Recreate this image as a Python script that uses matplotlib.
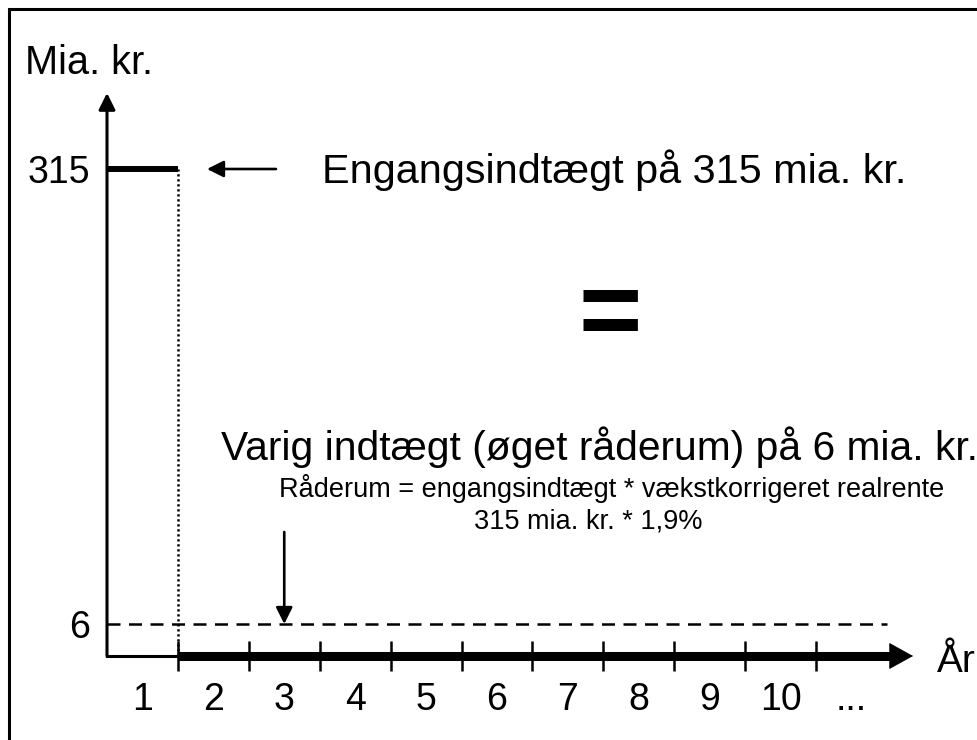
import matplotlib
matplotlib.use("Agg")
import matplotlib.pyplot as plt
import numpy as np
from matplotlib.patches import Rectangle
from matplotlib.ticker import FixedLocator, NullFormatter, FixedFormatter

# ---------------- data ----------------
years = [1, 2, 3, 4, 5, 6, 7, 8, 9, 10]
year_labels = ["1", "2", "3", "4", "5", "6", "7", "8", "9", "10", "..."]
once_value = 315          # engangsindtægt, mia. kr.
perm_value = 6            # varig indtægt, mia. kr.
rate_label = "1,9%"
y_unit = "Mia. kr."
x_unit = "År"
title_once = "Engangsindtægt på 315 mia. kr."
title_perm = "Varig indtægt (øget råderum) på 6 mia. kr."
formula_1 = "Råderum = engangsindtægt * vækstkorrigeret realrente"
formula_2 = "315 mia. kr. * " + rate_label

# ---------------- layout ----------------
W, H = 978, 740
plt.rcParams["font.family"] = ["Liberation Sans", "DejaVu Sans"]
fig = plt.figure(figsize=(W / 100, H / 100), dpi=100)
ax = fig.add_axes([0, 0, 1, 1])
ax.set_facecolor("none")

PX_YEAR = 70.9
X0_PX = 107
# piecewise-linear y scale (broken value axis), positions in pixels above y=0
LOW_PX = 32.0    # pixels from 0 to 6
HIGH_PX = 487.0  # pixels from 0 to 315
Y0_FROM_BOTTOM = H - 656


def fwd(v):
    v = np.asarray(v, dtype=float)
    s_lo = LOW_PX / perm_value
    s_hi = (HIGH_PX - LOW_PX) / (once_value - perm_value)
    return np.where(v <= perm_value, v * s_lo, LOW_PX + (v - perm_value) * s_hi)


def inv(p):
    p = np.asarray(p, dtype=float)
    s_lo = LOW_PX / perm_value
    s_hi = (HIGH_PX - LOW_PX) / (once_value - perm_value)
    return np.where(p <= LOW_PX, p / s_lo, perm_value + (p - LOW_PX) / s_hi)


ax.set_yscale("function", functions=(fwd, inv))
ax.set_xlim(-X0_PX / PX_YEAR, (W - X0_PX) / PX_YEAR)
ax.set_ylim(float(inv(-Y0_FROM_BOTTOM)), float(inv(H - Y0_FROM_BOTTOM)))


def px_to_x(px):
    return (px - X0_PX) / PX_YEAR


def py_to_y(py):
    return float(inv(H - py - Y0_FROM_BOTTOM))


for s in ["top", "right"]:
    ax.spines[s].set_visible(False)

# bottom spine: thin axis part for year 1
ax.spines["bottom"].set_position(("data", 0))
ax.spines["bottom"].set_bounds(0, years[0])
ax.spines["bottom"].set_linewidth(2.2)
ax.spines["left"].set_position(("data", 0))
ax.spines["left"].set_visible(False)

# x ticks at year boundaries, labels centred in each year
ax.xaxis.set_major_locator(FixedLocator(years))
ax.xaxis.set_major_formatter(NullFormatter())
ax.tick_params(axis="x", which="major", direction="inout", length=21.6, width=1.8, color="black")
minor_pos = [y - 0.5 for y in years] + [years[-1] + 0.5]
ax.xaxis.set_minor_locator(FixedLocator(minor_pos))
ax.xaxis.set_minor_formatter(FixedFormatter(year_labels))
ax.tick_params(axis="x", which="minor", length=0, pad=19, labelsize=27)

# y ticks
ax.yaxis.set_major_locator(FixedLocator([perm_value, once_value]))
ax.yaxis.set_major_formatter(FixedFormatter([str(perm_value), str(once_value)]))
ax.yaxis.set_minor_locator(FixedLocator([]))
ax.tick_params(axis="y", which="major", length=0, pad=12, labelsize=27)

# y axis with arrow
y_top = py_to_y(93)
ax.annotate("", xy=(0, y_top), xytext=(0, 0),
            arrowprops=dict(arrowstyle="-|>", lw=2.2, color="black", mutation_scale=25,
                            shrinkA=0, shrinkB=0), annotation_clip=False)

# one-time income bar at 315 for year 1
ax.plot([0, years[0]], [once_value, once_value], color="black", lw=4.3, solid_capstyle="butt")
# dotted drop line
ax.plot([years[0], years[0]], [0, once_value], color="black", lw=1.8, linestyle=(0, (0.9, 1.1)))
# dashed permanent income line
ax.plot([0, 11], [perm_value, perm_value], color="black", lw=1.8, linestyle=(0, (5.2, 3.4)))

# thick permanent line along x axis with arrow head
x_head0 = px_to_x(897)
x_tip = px_to_x(913)
ax.plot([years[0], x_head0 + 0.05], [0, 0], color="black", lw=6.5, solid_capstyle="butt")
ax.annotate("", xy=(x_tip, 0), xytext=(x_head0, 0),
            arrowprops=dict(arrowstyle="-|>,head_length=0.65,head_width=0.36", lw=0.5,
                            color="black", mutation_scale=25, shrinkA=0, shrinkB=0),
            annotation_clip=False)

# pointer arrows
ax.annotate("", xy=(px_to_x(207), once_value), xytext=(px_to_x(276), once_value),
            arrowprops=dict(arrowstyle="-|>", lw=1.9, color="black", mutation_scale=25,
                            shrinkA=0, shrinkB=0))
ax.annotate("", xy=(2.5, perm_value), xytext=(2.5, py_to_y(532)),
            arrowprops=dict(arrowstyle="-|>", lw=1.9, color="black", mutation_scale=25,
                            shrinkA=0, shrinkB=0))


# ---------------- texts ----------------
def ptext(xpx, ypx, s, size, ha="left", va="baseline", **kw):
    return fig.text(xpx / W, 1 - ypx / H, s, fontsize=size, ha=ha, va=va, **kw)


t_unit = ptext(25, 74, y_unit, 28)
t_once = ptext(322, 183, title_once, 28)
t_perm = ptext(221, 460, title_perm, 27)
t_f1 = ptext(279, 497, formula_1, 17.6)
t_f2 = ptext(474, 529, formula_2, 17.6)
t_eq = ptext(610, 346, "=", 78, ha="center", fontweight="bold")
t_x = ptext(937, 672, x_unit, 28)

fig.canvas.draw()
r = fig.canvas.get_renderer()
for t, target in [(t_unit, 128), (t_once, 584), (t_perm, 754), (t_f1, 661)]:
    bb = t.get_window_extent(r)
    t.set_fontsize(t.get_fontsize() * target / bb.width)
t_f2.set_fontsize(t_f1.get_fontsize())

# frame around picture (right and bottom edges fall outside)
fig.add_artist(Rectangle((8.5 / W, -0.1), 1.2, 1.1 - 8.5 / H, transform=fig.transFigure,
                         fill=False, lw=2.2, edgecolor="black", clip_on=False))

fig.savefig("out.png", dpi=100, facecolor="white")
